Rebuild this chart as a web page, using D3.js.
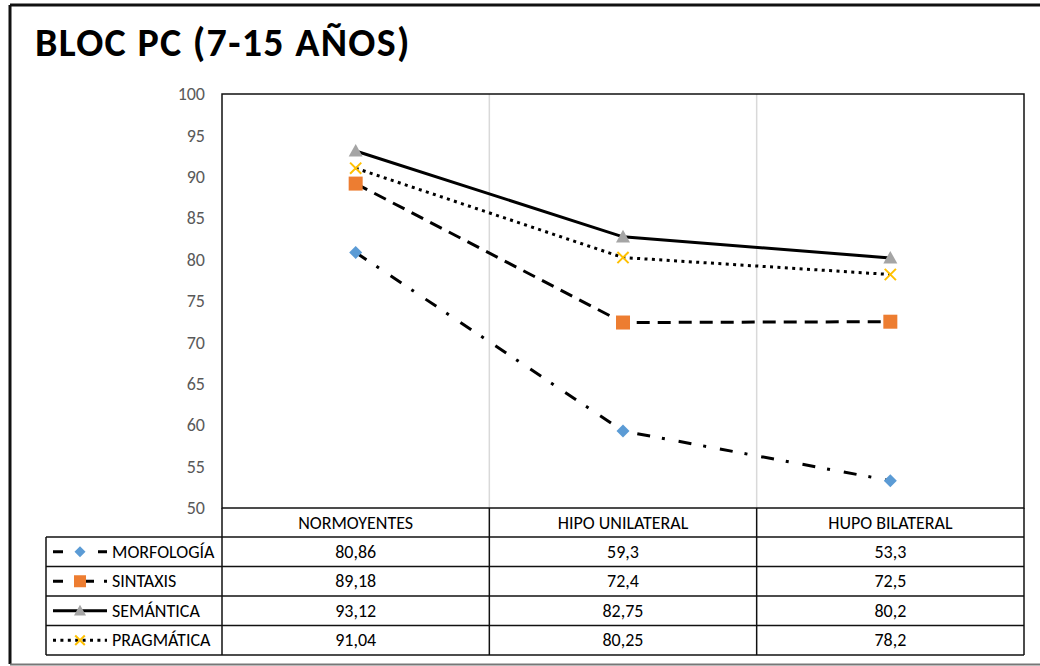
<!DOCTYPE html>
<html>
<head>
<meta charset="utf-8">
<script src="https://cdn.jsdelivr.net/npm/d3@7/dist/d3.min.js"></script>
<style>
  html, body { margin: 0; padding: 0; background: #fff; }
  svg { display: block; font-family: Carlito, Calibri, Lato, sans-serif; }
</style>
</head>
<body>
<svg id="chart" width="1040" height="666"></svg>
<script>
// Categories (x axis) and the four series of mean scores
const categories = ["NORMOYENTES", "HIPO UNILATERAL", "HUPO BILATERAL"];
const morfologia = [80.86, 59.3, 53.3];
const sintaxis   = [89.18, 72.4, 72.5];
const semantica  = [93.12, 82.75, 80.2];
const pragmatica = [91.04, 80.25, 78.2];
const seriesNames = ["MORFOLOGÍA", "SINTAXIS", "SEMÁNTICA", "PRAGMÁTICA"];
const yTicks = [50, 55, 60, 65, 70, 75, 80, 85, 90, 95, 100];
const titleText = "BLOC PC (7-15 AÑOS)";

const series = [
  { name: seriesNames[0], values: morfologia, dash: "13 12 3 14", keyDash: "10 35 11", marker: "diamond",  color: "#5B9BD5", size: 13 },
  { name: seriesNames[1], values: sintaxis,   dash: "13 8",       keyDash: "10 22 9",  marker: "square",   color: "#ED7D31", size: 14 },
  { name: seriesNames[2], values: semantica,  dash: null,         keyDash: null,       marker: "triangle", color: "#A5A5A5", size: 14 },
  { name: seriesNames[3], values: pragmatica, dash: "3 4.4",      keyDash: "3 4.4",    marker: "cross",    color: "#FFC000", size: 14 }
];

const svg = d3.select("#chart");
const FONT = "Carlito, Calibri, Lato, sans-serif";

// Outer frame
svg.append("line").attr("x1", 10).attr("y1", 5).attr("x2", 1040).attr("y2", 5)
  .attr("stroke", "#111").attr("stroke-width", 3);
svg.append("line").attr("x1", 10).attr("y1", 5).attr("x2", 10).attr("y2", 664)
  .attr("stroke", "#111").attr("stroke-width", 3);
svg.append("line").attr("x1", 10).attr("y1", 664.5).attr("x2", 1040).attr("y2", 664.5)
  .attr("stroke", "#777").attr("stroke-width", 2);

// Title
svg.append("text").attr("x", 35).attr("y", 56)
  .attr("font-family", FONT)
  .attr("font-weight", "bold").attr("font-size", 40).attr("letter-spacing", 1.3).attr("fill", "#000")
  .text(titleText);

// Plot geometry
const plot = { left: 222, right: 1024, top: 94, bottom: 508 };
const x = d3.scaleBand().domain(categories).range([plot.left, plot.right]).padding(0);
const y = d3.scaleLinear().domain([50, 100]).range([plot.bottom, plot.top]);
const cx = c => x(c) + x.bandwidth() / 2;

// Vertical separators between categories
svg.append("g").selectAll("line").data(categories.slice(1)).join("line")
  .attr("x1", d => x(d)).attr("x2", d => x(d))
  .attr("y1", plot.top).attr("y2", plot.bottom)
  .attr("stroke", "#d9d9d9").attr("stroke-width", 1.5);

// Y axis labels
const yAxis = d3.axisLeft(y).tickValues(yTicks).tickSize(0).tickPadding(17);
const gy = svg.append("g").attr("transform", `translate(${plot.left},0)`).call(yAxis);
gy.select(".domain").remove();
gy.selectAll("text").attr("fill", "#595959").attr("font-size", 18)
  .attr("font-family", FONT);

// Plot border
svg.append("rect").attr("x", plot.left).attr("y", plot.top)
  .attr("width", plot.right - plot.left).attr("height", plot.bottom - plot.top)
  .attr("fill", "none").attr("stroke", "#111").attr("stroke-width", 1.5);

// Marker drawing
function drawMarker(g, type, color, px, py, s) {
  if (type === "diamond") {
    g.append("path").attr("d", `M${px},${py - s * 0.5}L${px + s * 0.5},${py}L${px},${py + s * 0.5}L${px - s * 0.5},${py}Z`)
      .attr("fill", color);
  } else if (type === "square") {
    g.append("rect").attr("x", px - s * 0.5).attr("y", py - s * 0.5)
      .attr("width", s).attr("height", s).attr("fill", color);
  } else if (type === "triangle") {
    g.append("path").attr("d", `M${px},${py - s * 0.5}L${px + s * 0.5},${py + s * 0.4}L${px - s * 0.5},${py + s * 0.4}Z`)
      .attr("fill", color);
  } else if (type === "cross") {
    const h = s * 0.4;
    g.append("path").attr("d", `M${px - h},${py - h}L${px + h},${py + h}M${px + h},${py - h}L${px - h},${py + h}`)
      .attr("stroke", color).attr("stroke-width", 2).attr("fill", "none");
  }
}

// Lines and markers
const line = d3.line().x((d, i) => cx(categories[i])).y(d => y(d));
const gLines = svg.append("g");
series.forEach(s => {
  gLines.append("path").datum(s.values).attr("d", line)
    .attr("fill", "none").attr("stroke", "#000").attr("stroke-width", 3)
    .attr("stroke-dasharray", s.dash);
});
series.forEach(s => {
  const gm = svg.append("g");
  s.values.forEach((v, i) => {
    drawMarker(gm, s.marker, s.color, cx(categories[i]), y(v), s.size);
  });
});

// Data table beneath the plot
const table = { left: 46, headerTop: plot.bottom, headerBottom: 537, rowH: 29.5 };
const rowY = i => table.headerBottom + i * table.rowH;
const tg = svg.append("g").attr("font-family", FONT);
const tableBottom = rowY(series.length);

// Header labels
tg.selectAll("text.hdr").data(categories).join("text").attr("class", "hdr")
  .attr("x", d => cx(d)).attr("y", (table.headerTop + table.headerBottom) / 2 + 6)
  .attr("text-anchor", "middle").attr("font-size", 18).attr("fill", "#000")
  .text(d => d);

// Horizontal rules
d3.range(series.length + 1).forEach(i => {
  tg.append("line").attr("x1", table.left).attr("x2", plot.right)
    .attr("y1", rowY(i)).attr("y2", rowY(i))
    .attr("stroke", "#111").attr("stroke-width", 1.5);
});
// Vertical rules
tg.append("line").attr("x1", table.left).attr("x2", table.left).attr("y1", table.headerBottom).attr("y2", tableBottom)
  .attr("stroke", "#111").attr("stroke-width", 1.5);
categories.forEach(c => {
  tg.append("line").attr("x1", x(c)).attr("x2", x(c)).attr("y1", table.headerTop).attr("y2", tableBottom)
    .attr("stroke", "#111").attr("stroke-width", 1.5);
});
tg.append("line").attr("x1", plot.right).attr("x2", plot.right).attr("y1", table.headerTop).attr("y2", tableBottom)
  .attr("stroke", "#111").attr("stroke-width", 1.5);

// Rows: legend key, name and values
series.forEach((s, i) => {
  const my = rowY(i) + table.rowH / 2;
  const key = tg.append("g");
  key.append("line").attr("x1", 53).attr("x2", 107).attr("y1", my).attr("y2", my)
    .attr("stroke", "#000").attr("stroke-width", 3)
    .attr("stroke-dasharray", s.keyDash);
  drawMarker(key, s.marker, s.color, 80, my, s.size - 2);
  key.append("text").attr("x", 112).attr("y", my + 6)
    .attr("font-size", 18).attr("fill", "#000").text(s.name);
  s.values.forEach((v, j) => {
    tg.append("text").attr("x", cx(categories[j])).attr("y", my + 6)
      .attr("text-anchor", "middle").attr("font-size", 18).attr("fill", "#000")
      .text(String(v).replace(".", ","));
  });
});
</script>
</body>
</html>
